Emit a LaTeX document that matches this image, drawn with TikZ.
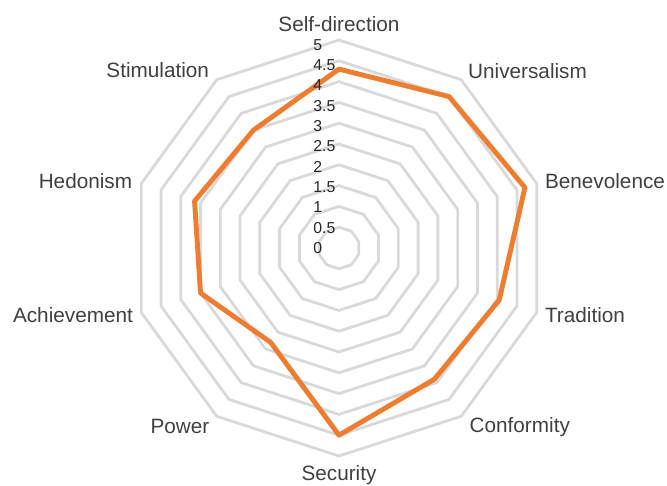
\documentclass[tikz,border=0pt]{standalone}
\usepackage{fontspec}
\setmainfont{Liberation Sans}
\usetikzlibrary{calc}
\definecolor{ringgray}{HTML}{D9D9D9}
\definecolor{series}{HTML}{ED7D31}
\definecolor{labgray}{HTML}{404040}

\begin{document}
\begin{tikzpicture}[x=0.832cm,y=0.832cm]
  \useasboundingbox (-8.149,-5.721) rectangle (7.885,5.962);
  \foreach \r in {0.5,1,...,5}
    \draw[ringgray,line width=1.6pt,line join=round] (90:\r) \foreach \a in {54,18,...,-234} { -- (\a:\r) } -- cycle;

  \foreach \a/\v/\lab/\anc/\d [count=\i] in {90/4.3/Self-direction/south/5.2, 54/4.5/Universalism/west/5.27, 18/4.7/Benevolence/west/5.2, -18/4.05/Tradition/west/5.2, -54/3.9/Conformity/west/5.33, -90/4.5/Security/north/5.22, -126/2.8/Power/east/5.29, -162/3.5/Achievement/east/5.2, 162/3.65/Hedonism/east/5.22, 126/3.5/Stimulation/east/5.3} {
    \coordinate (p\i) at (\a:\v);
    \node[anchor=\anc,inner sep=0,font=\fontsize{11.8}{14}\selectfont,text=labgray] (l\i) at (\a:\d) {\lab};
  }
  \draw[series,line width=2.8pt,line join=round] (p1) -- (p2) -- (p3) -- (p4) -- (p5) -- (p6) -- (p7) -- (p8) -- (p9) -- (p10) -- cycle;

  \foreach \v [count=\i] in {0,0.5,1,1.5,2,2.5,3,3.5,4,4.5,5}
    \node[anchor=west,inner sep=0,font=\fontsize{9}{10}\selectfont,text=black!85] (t\i) at (-0.625,{0.977*\v}) {\v};
\end{tikzpicture}
\end{document}
